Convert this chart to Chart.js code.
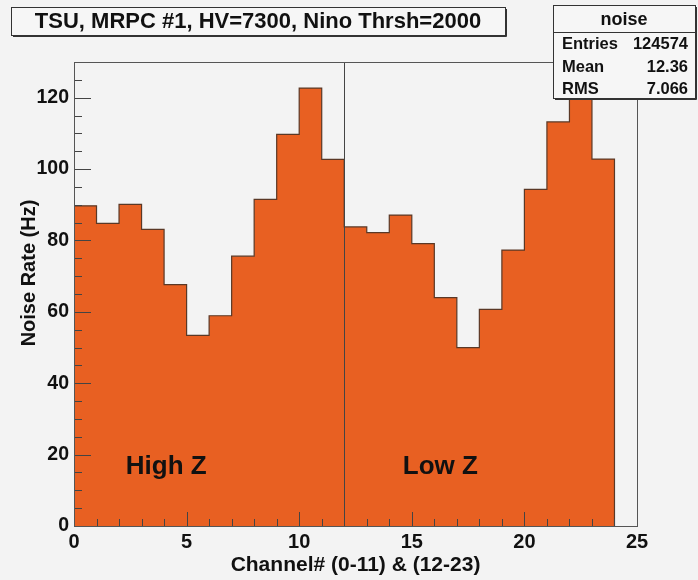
<!DOCTYPE html>
<html>
<head>
<meta charset="utf-8">
<script src="https://cdn.jsdelivr.net/npm/chart.js@4.4.1/dist/chart.umd.min.js"></script>
<style>
  html, body { margin: 0; padding: 0; background: #f3f3f3; }
  canvas { display: block; }
</style>
</head>
<body>
<canvas id="noise" width="698" height="580"></canvas>
<script>
// bin left edges and the noise rate read for each channel (Hz)
const channels = [0, 1, 2, 3, 4, 5, 6, 7, 8, 9, 10, 11, 12, 13, 14, 15, 16, 17, 18, 19, 20, 21, 22, 23]
const noiseRates = [89.7, 84.8, 90.1, 83.1, 67.6, 53.4, 58.9, 75.6, 91.5, 109.7, 122.7, 102.7,
                    83.8, 82.2, 87.1, 79.1, 64.0, 50.0, 60.7, 77.3, 94.3, 113.2, 125.0, 102.8]
const binWidth = 1
const xTicks = [0, 5, 10, 15, 20, 25]
const yTicks = [0, 20, 40, 60, 80, 100, 120]

const titleText = 'TSU, MRPC #1, HV=7300, Nino Thrsh=2000'
const histName = 'noise'
const statNames = ['Entries', 'Mean', 'RMS']
const statValues = ['124574', '12.36', '7.066']
const splitChannel = 12
const regionNames = ['High Z', 'Low Z']
const regionAt = [{ x: 2.3, y: 16.5 }, { x: 14.6, y: 16.5 }]

const FONT = '"Liberation Sans", Arial, Helvetica, sans-serif'
const ORANGE = '#e86022'

// ROOT style histogram: step outline from bin edges, dropping to zero at both ends
function histogramPoints() {
  const pts = [{ x: channels[0], y: 0 }]
  channels.forEach((c, i) => pts.push({ x: c, y: noiseRates[i] }))
  const last = channels[channels.length - 1] + binWidth
  pts.push({ x: last, y: noiseRates[noiseRates.length - 1] })
  pts.push({ x: last, y: 0 })
  return pts
}

function drawBox(ctx, x, y, w, h) {
  ctx.fillStyle = '#f6f6f6'
  ctx.fillRect(x, y, w, h)
  ctx.strokeStyle = '#333'
  ctx.lineWidth = 1
  ctx.strokeRect(x + 0.5, y + 0.5, w, h)
  // thin shadow on right and bottom
  ctx.beginPath()
  ctx.moveTo(x + w + 1.5, y + 2)
  ctx.lineTo(x + w + 1.5, y + h + 1.5)
  ctx.lineTo(x + 2, y + h + 1.5)
  ctx.stroke()
}

const rootFrame = {
  id: 'rootFrame',
  beforeDraw(chart) {
    const ctx = chart.ctx
    ctx.save()
    ctx.fillStyle = '#f3f3f3'
    ctx.fillRect(0, 0, chart.width, chart.height)
    ctx.restore()
  },
  afterDatasetsDraw(chart) {
    const { ctx, chartArea: a, scales: { x, y } } = chart
    ctx.save()
    ctx.strokeStyle = '#444'
    ctx.lineWidth = 1

    // divider between the two halves of the chamber
    const sx = Math.round(x.getPixelForValue(splitChannel)) + 0.5
    ctx.beginPath()
    ctx.moveTo(sx, a.top)
    ctx.lineTo(sx, a.bottom)
    ctx.stroke()

    // inward ticks
    ctx.beginPath()
    for (let v = x.min; v <= x.max; v += 1) {
      const px = Math.round(x.getPixelForValue(v)) + 0.5
      const len = v % 5 === 0 ? 14 : 7
      ctx.moveTo(px, a.bottom)
      ctx.lineTo(px, a.bottom - len)
    }
    for (let v = y.min; v <= y.max; v += 5) {
      const py = Math.round(y.getPixelForValue(v)) + 0.5
      const len = v % 20 === 0 ? 17 : 8
      ctx.moveTo(a.left, py)
      ctx.lineTo(a.left + len, py)
    }
    ctx.stroke()

    // frame
    ctx.strokeStyle = '#555'
    ctx.strokeRect(Math.round(a.left) + 0.5, Math.round(a.top) + 0.5,
                   Math.round(a.right - a.left), Math.round(a.bottom - a.top))

    // region labels
    ctx.fillStyle = '#111'
    ctx.font = 'bold 26px ' + FONT
    ctx.textBaseline = 'middle'
    ctx.textAlign = 'left'
    regionNames.forEach((name, i) => {
      ctx.fillText(name, x.getPixelForValue(regionAt[i].x), y.getPixelForValue(regionAt[i].y))
    })

    // y axis title, placed towards the top like ROOT does
    ctx.font = 'bold 20px ' + FONT
    ctx.textAlign = 'center'
    ctx.translate(29, 273)
    ctx.rotate(-Math.PI / 2)
    ctx.fillText('Noise Rate (Hz)', 0, 0)
    ctx.restore()
  },
  afterDraw(chart) {
    const ctx = chart.ctx
    ctx.save()
    ctx.textBaseline = 'middle'
    ctx.fillStyle = '#111'

    // title box
    drawBox(ctx, 11, 7, 494, 28)
    ctx.fillStyle = '#111'
    ctx.font = 'bold 22px ' + FONT
    ctx.textAlign = 'center'
    ctx.fillText(titleText, 258, 22)

    // statistics box
    drawBox(ctx, 553, 5, 142, 93)
    ctx.strokeStyle = '#333'
    ctx.beginPath()
    ctx.moveTo(553, 32.5)
    ctx.lineTo(696, 32.5)
    ctx.stroke()
    ctx.fillStyle = '#111'
    ctx.font = 'bold 18px ' + FONT
    ctx.fillText(histName, 624, 20)
    ctx.font = 'bold 16.5px ' + FONT
    const rowY = [44, 67, 89]
    statNames.forEach((name, i) => {
      ctx.textAlign = 'left'
      ctx.fillText(name, 562, rowY[i])
      ctx.textAlign = 'right'
      ctx.fillText(statValues[i], 688, rowY[i])
    })
    ctx.restore()
  }
}

new Chart(document.getElementById('noise'), {
  type: 'line',
  data: {
    datasets: [{
      label: histName,
      data: histogramPoints(),
      stepped: 'before',
      fill: 'origin',
      backgroundColor: ORANGE,
      borderColor: '#5a3826',
      borderWidth: 1.2,
      pointRadius: 0,
      tension: 0
    }]
  },
  options: {
    responsive: false,
    devicePixelRatio: 1,
    animation: false,
    layout: { padding: { left: 0, right: 61, top: 62, bottom: 0 } },
    plugins: {
      legend: { display: false },
      tooltip: { enabled: false }
    },
    scales: {
      x: {
        type: 'linear',
        min: 0,
        max: 25,
        grid: { display: false, drawTicks: false },
        border: { display: false },
        afterBuildTicks: s => { s.ticks = xTicks.map(v => ({ value: v })) },
        afterFit: s => { s.height = 54 },
        ticks: {
          padding: 4,
          maxRotation: 0,
          color: '#111',
          font: { family: FONT, size: 20, weight: 'bold' }
        },
        title: {
          display: true,
          text: 'Channel# (0-11) & (12-23)',
          color: '#111',
          padding: { top: 0, bottom: 2 },
          font: { family: FONT, size: 21, weight: 'bold' }
        }
      },
      y: {
        min: 0,
        max: 130,
        grid: { display: false, drawTicks: false },
        border: { display: false },
        afterBuildTicks: s => { s.ticks = yTicks.map(v => ({ value: v })) },
        afterFit: s => { s.width = 74 },
        ticks: {
          padding: 5,
          color: '#111',
          font: { family: FONT, size: 19.5, weight: 'bold' }
        }
      }
    }
  },
  plugins: [rootFrame]
})
</script>
</body>
</html>
